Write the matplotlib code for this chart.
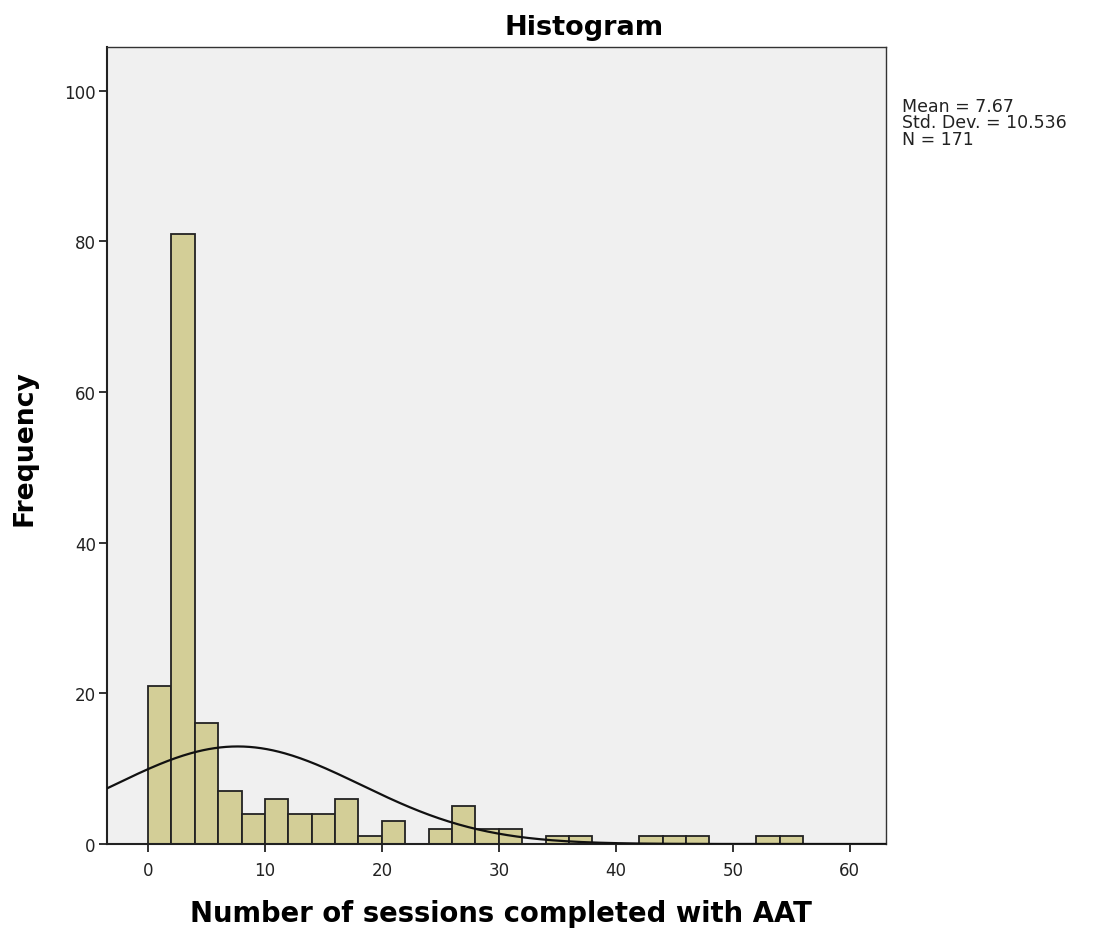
import matplotlib.pyplot as plt
import numpy as np

# histogram bins (width 2) and counts
bin_left = np.arange(0, 56, 2)
counts = [21, 81, 16, 7, 4, 6, 4, 4, 6, 1, 3, 0, 2, 5, 2, 2, 0, 1, 1, 0, 0, 1, 1, 1, 0, 0, 1, 1]
mean = 7.67
std = 10.536
n = 171
bin_width = 2

fig = plt.figure(figsize=(10.95, 9.29), dpi=100)
ax = fig.add_axes([0.0977, 0.0904, 0.7115, 0.858])
ax.set_facecolor("#f0f0f0")

mask = np.array(counts) > 0
ax.bar(bin_left[mask], np.array(counts)[mask], width=bin_width, align="edge",
       color="#d3ce97", edgecolor="#222222", linewidth=1.3, zorder=2)

# normal curve scaled to counts
xs = np.linspace(-3.5, 63.1, 400)
ys = n * bin_width / (std * np.sqrt(2 * np.pi)) * np.exp(-0.5 * ((xs - mean) / std) ** 2)
ax.plot(xs, ys, color="#111111", linewidth=1.6, zorder=3)

ax.set_xlim(-3.5, 63.1)
ax.set_ylim(0, 105.8)
ax.set_xticks(np.arange(0, 61, 10))
ax.set_yticks(np.arange(0, 101, 20))
ax.tick_params(axis="both", labelsize=12, length=6, width=1.3, color="#222222",
               labelcolor="#222222")
ax.tick_params(axis="y", pad=2)
ax.tick_params(axis="x", pad=6)
for side in ["left", "bottom"]:
    ax.spines[side].set_linewidth(1.5)
    ax.spines[side].set_color("#222222")
for side in ["top", "right"]:
    ax.spines[side].set_linewidth(1.0)
    ax.spines[side].set_color("#333333")

fig.text(0.533, 0.970, "Histogram", fontsize=19.5, fontweight="bold",
         ha="center", va="center")
fig.text(0.4575, 0.0075, "Number of sessions completed with AAT", fontsize=19.8,
         fontweight="bold", ha="center", va="baseline")
fig.text(0.022, 0.518, "Frequency", fontsize=19.2, fontweight="bold",
         rotation=90, ha="center", va="center")

fig.text(0.824, 0.895, "Mean = 7.67\nStd. Dev. = 10.536\nN = 171",
         fontsize=12.5, va="top", ha="left", linespacing=0.92, color="#222222")

fig.savefig("out.png", dpi=100)
